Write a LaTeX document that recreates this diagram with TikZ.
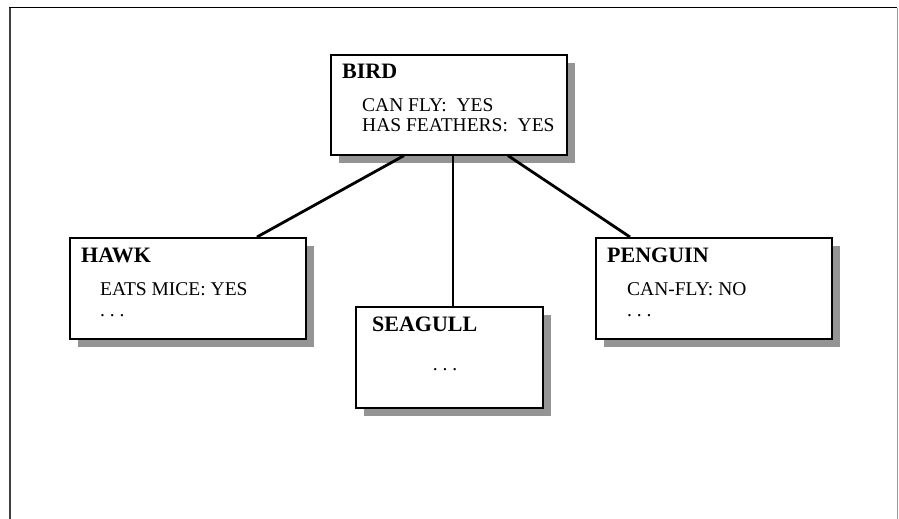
\documentclass[tikz,border=0pt]{standalone}
\usepackage{fontspec}
\setmainfont{Liberation Serif}
\usetikzlibrary{calc,shadows}
\begin{document}
\begin{tikzpicture}[x=1pt,y=-1pt,
  classbox/.style={draw=black,line width=1.6pt,fill=white,rectangle,anchor=north west,inner sep=0pt,
    general shadow={fill=black!42,shadow xshift=8pt,shadow yshift=-8pt}},
  title/.style={anchor=base west,inner sep=0pt,font=\fontsize{22}{25}\selectfont\bfseries},
  slot/.style={anchor=base west,inner sep=0pt,font=\fontsize{19.5}{22}\selectfont},
  link/.style={draw=black,line width=2.8pt}]
\useasboundingbox (0,0) rectangle (899,519);
% outer frame, open at the bottom
\draw[black!75,line width=2pt] (10,519) -- (10,8);
\draw[black,line width=1pt] (9,8) -- (897,8);
\draw[black!40,line width=1pt] (897,8) -- (897,519);

% class boxes
\node[classbox,minimum width=236pt,minimum height=100pt] (bird) at (330,54) {};
\node[classbox,minimum width=236pt,minimum height=101pt] (hawk) at (69,237) {};
\node[classbox,minimum width=187pt,minimum height=101pt] (seagull) at (355,306) {};
\node[classbox,minimum width=236pt,minimum height=101pt] (penguin) at (595,237) {};

% links from the superclass
\draw[link] ($(bird.south west)+(74,0)$) -- ($(hawk.north west)+(188,0)$);
\draw[link] ($(bird.south west)+(123,0)$) -- ($(seagull.north west)+(98,0)$);
\draw[link] ($(bird.south west)+(178,0)$) -- ($(penguin.north west)+(35,0)$);

% texts
\node[title] (birdT) at (342,78) {BIRD};
\node[slot] (birdA) at (362,111) {CAN FLY:\ \ YES};
\node[slot] (birdB) at (362,131) {HAS FEATHERS:\ \ YES};

\node[title] (hawkT) at (81,262) {HAWK};
\node[slot] (hawkA) at (100,295) {EATS MICE: YES};
\node[slot] (hawkB) at (100,316) {.\ .\ .};

\node[title] (gullT) at (372,331) {SEAGULL};
\node[slot,anchor=base] (gullA) at (445,370) {.\ .\ .};

\node[title] (pengT) at (607,262) {PENGUIN};
\node[slot] (pengA) at (627,295) {CAN-FLY: NO};
\node[slot] (pengB) at (627,316) {.\ .\ .};
\end{tikzpicture}
\end{document}
